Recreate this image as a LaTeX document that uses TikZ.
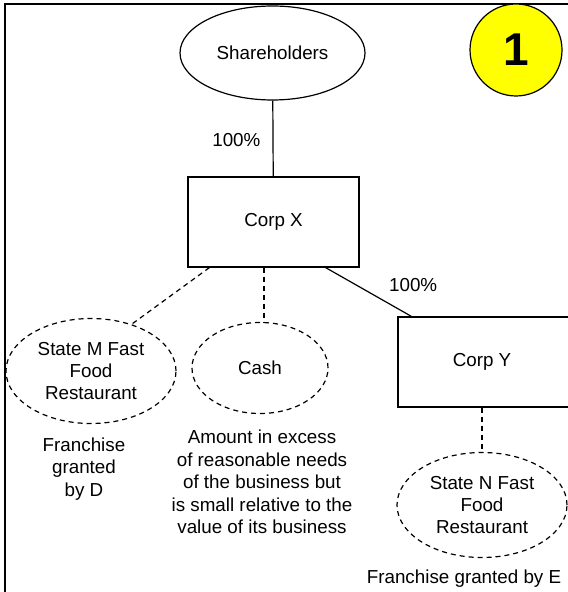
\documentclass[tikz,border=0pt]{standalone}
\usepackage{fontspec}
\setmainfont{Liberation Sans}
\usepackage{xcolor}
\definecolor{tagyellow}{HTML}{FFFF00}
\usetikzlibrary{shapes.geometric,positioning}

\begin{document}
\begin{tikzpicture}[x=0.5pt,y=-0.5pt,font=\fontsize{9.4}{11.2}\selectfont]
\tikzset{
 co/.style={draw,line width=0.6pt,minimum width=85.5pt,minimum height=45pt,inner sep=0pt},
 ow/.style={draw,ellipse,line width=0.6pt,inner sep=0pt,align=center},
 as/.style={ow,dash pattern=on 2.5pt off 2pt},
 tx/.style={align=center,inner sep=0pt},
 l/.style={line width=0.6pt},
 d/.style={l,dash pattern=on 2.5pt off 2pt}
}
\useasboundingbox (0,0) rectangle (567,592);
\draw[line width=1.25pt] (5,4) rectangle (600,620);
\node[ow,minimum width=92.5pt,minimum height=47pt] (sh) at (272.5,53) {Shareholders};
\node[co] (cx) at (273.5,222) {Corp X};
\node[co,minimum width=87pt] (cy) at (485,362) {\hspace*{-3pt}Corp Y};
\node[as,minimum width=85pt,minimum height=52.5pt] (rm) at (91,371) {State M Fast\\Food\\Restaurant};
\node[as,minimum width=68pt,minimum height=45.5pt] (cash) at (260,368) {Cash};
\node[as,minimum width=85pt,minimum height=52.5pt] (rn) at (482,505) {State N Fast\\Food\\Restaurant};
\node[tx] (fd) at (84,469) {Franchise\\granted\\by D};
\node[tx] (amt) at (262,482) {Amount in excess\\of reasonable needs\\of the business but\\is small relative to the\\value of its business};
\node[tx] (fe) at (464,579) {Franchise granted by E};
\node[circle,draw,line width=0.6pt,fill=tagyellow,minimum size=46pt,inner sep=0pt,font=\bfseries\fontsize{23}{23}\selectfont] (tag) at (516,50) {1};
% ownership
\draw[l] (sh) -- node[left=6pt,inner sep=0pt,yshift=-1pt] {100\%} (cx);
\draw[l] ([xshift=-17pt]cx.south east) -- node[anchor=south west,inner sep=0pt,xshift=10pt] {100\%} ([xshift=7pt]cy.north west);
% assets
\draw[d] ([xshift=11pt]cx.south west) -- (rm.49);
\draw[d] ([xshift=-4.75pt]cx.south) -- ([xshift=2pt]cash.north);
\draw[d] ([xshift=-1.5pt]cy.south) -- (rn);
\end{tikzpicture}
\end{document}
